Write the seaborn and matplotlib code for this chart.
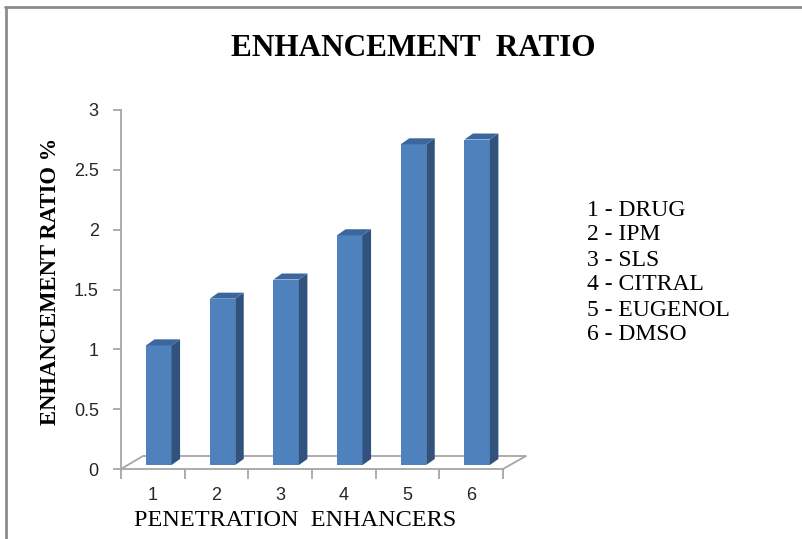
import matplotlib.pyplot as plt
from matplotlib.patches import Polygon
from matplotlib.lines import Line2D
import seaborn as sns

# data
enhancers = ["1", "2", "3", "4", "5", "6"]
names = ["DRUG", "IPM", "SLS", "CITRAL", "EUGENOL", "DMSO"]
ratio = [1.0, 1.39, 1.55, 1.92, 2.68, 2.72]

sns.set_style("white")
plt.rcParams["font.family"] = ["Liberation Serif", "DejaVu Serif"]
plt.rcParams["text.color"] = "black"

W, H = 803, 539
fig = plt.figure(figsize=(W / 100, H / 100), dpi=100)
ax = fig.add_axes([121 / W, 70 / H, 382 / W, 359 / H])

sns.barplot(x=enhancers, y=ratio, color="#4f81bd", width=0.4,
            saturation=1, ax=ax, zorder=3)
ax.set_xlim(-0.5, 5.5)
ax.set_ylim(0, 3)

# pixel size in data units, used for the fake 3d look
px = 1 / 63.67
py = 3 / 359
dx, dy = 8.5, 6

bars = list(ax.patches)
for bar in bars:
    bar.set_x(bar.get_x() + 6 * px)
    bar.set_y(4 * py)
    bar.set_edgecolor("none")
    x0 = bar.get_x()
    x1 = x0 + bar.get_width()
    y0 = bar.get_y()
    y1 = y0 + bar.get_height()
    side = [(x1, y0), (x1 + dx * px, y0 + dy * py),
            (x1 + dx * px, y1 + dy * py), (x1, y1)]
    top = [(x0, y1), (x1, y1), (x1 + dx * px, y1 + dy * py),
           (x0 + dx * px, y1 + dy * py)]
    ax.add_patch(Polygon(side, closed=True, facecolor="#30527d",
                         edgecolor="none", zorder=3, clip_on=False))
    ax.add_patch(Polygon(top, closed=True, facecolor="#3b679e",
                         edgecolor="none", zorder=3, clip_on=False))

# floor
grey = "#a6a6a6"
ax.add_line(Line2D([-0.5, -0.5 + 22 * px, 5.5 + 23 * px, 5.5],
                   [0, 13 * py, 13 * py, 0], color=grey, lw=1.3,
                   clip_on=False, zorder=2))

for s in ["top", "right"]:
    ax.spines[s].set_visible(False)
for s in ["left", "bottom"]:
    ax.spines[s].set_color(grey)
    ax.spines[s].set_linewidth(1.3)

ax.set_yticks([0, 0.5, 1, 1.5, 2, 2.5, 3])
ax.set_yticklabels(["0", "0.5", "1", "1.5", "2", "2.5", "3"],
                   family="Liberation Sans")
ax.tick_params(axis="y", length=6, width=1.3, color=grey, pad=10,
               labelsize=13, labelcolor="#262626", left=True)

ax.set_xticks([i - 0.5 for i in range(7)])
ax.set_xticklabels([])
ax.set_xticks(range(6), minor=True)
ax.set_xticklabels(enhancers, minor=True, family="Liberation Sans")
ax.tick_params(axis="x", which="major", length=7, width=1.3, color=grey,
               bottom=True)
ax.tick_params(axis="x", which="minor", length=0, pad=13, labelsize=13,
               labelcolor="#262626")
ax.set_xlabel("")
ax.set_ylabel("")

fig.text(413 / W, 1 - 49 / H, "ENHANCEMENT  RATIO", ha="center",
         va="center", fontsize=22.5, fontweight="bold")
fig.text(51 / W, 1 - 281 / H, "ENHANCEMENT RATIO %", ha="center",
         va="center", rotation=90, fontsize=16.3, fontweight="bold")
fig.text(295 / W, 1 - 520 / H, "PENETRATION  ENHANCERS", ha="center",
         va="center", fontsize=17.5)

for i, (e, n) in enumerate(zip(enhancers, names)):
    fig.text(587 / W, 1 - (210 + 25 * i) / H, f"{e} - {n}", ha="left",
             va="center", fontsize=17)

# chart border (only top and left visible)
fig.add_artist(Line2D([5 / W, 802 / W], [1 - 7 / H, 1 - 7 / H],
                      transform=fig.transFigure, color="#8c8c8c", lw=2))
fig.add_artist(Line2D([6 / W, 6 / W], [1 - 7 / H, 0],
                      transform=fig.transFigure, color="#8c8c8c", lw=2))

fig.savefig("out.png", dpi=100)
